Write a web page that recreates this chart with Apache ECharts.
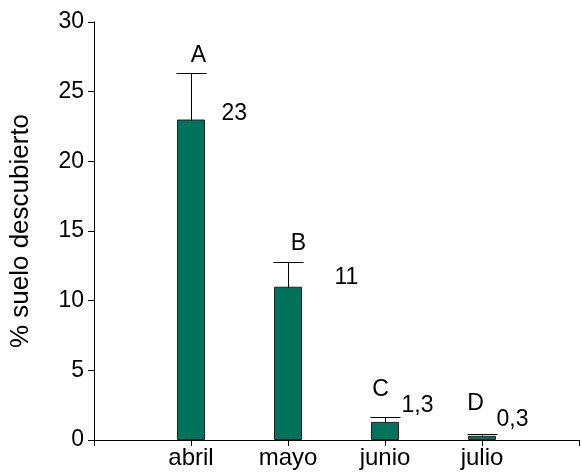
<!DOCTYPE html>
<html>
<head>
<meta charset="utf-8">
<script src="https://cdn.jsdelivr.net/npm/echarts@6/dist/echarts.min.js"></script>
<style>
  html, body { margin: 0; padding: 0; background: #ffffff; }
  #chart { width: 582px; height: 475px; }
</style>
</head>
<body>
<div id="chart"></div>
<script>
// Bare soil cover by month: means, upper error limits and significance groups
const months = ['abril', 'mayo', 'junio', 'julio'];
const means = [23, 11, 1.3, 0.3];
const upperErr = [26.35, 12.8, 1.67, 0.42];
const groups = ['A', 'B', 'C', 'D'];
const yTicks = [0, 5, 10, 15, 20, 25, 30];

// Label placement in pixels: group letters relative to the error cap,
// value labels relative to the bar top (dx, dy)
const letterShift = [[7, -18], [10, -19], [-5, -28], [-7, -31]];
const valueShift = [[30, -6], [46, -9], [16, -16], [14, -16]];

const FONT = '"Liberation Sans", Arial, sans-serif';
const fmt = v => String(v).replace('.', ',');

const barData = months.map((m, i) => [i + 1, means[i]]);
const errData = months.map((m, i) => [i + 1, means[i], upperErr[i]]);

const chart = echarts.init(document.getElementById('chart'), null, { renderer: 'canvas' });

chart.setOption({
  animation: false,
  backgroundColor: '#ffffff',
  grid: { left: 93, right: 2, top: 22, bottom: 35, containLabel: false },
  xAxis: {
    type: 'value',
    min: 0,
    max: 5,
    interval: 1,
    splitLine: { show: false },
    axisLine: { show: true, lineStyle: { color: '#000', width: 1 } },
    axisTick: { show: true, inside: false, length: 6, lineStyle: { color: '#000' } },
    axisLabel: {
      color: '#000',
      fontFamily: FONT,
      fontSize: 24,
      margin: 6,
      formatter: v => (v >= 1 && v <= months.length ? months[v - 1] : '')
    }
  },
  yAxis: {
    type: 'value',
    min: yTicks[0],
    max: yTicks[yTicks.length - 1],
    interval: yTicks[1] - yTicks[0],
    name: '% suelo descubierto',
    nameLocation: 'middle',
    nameGap: 60,
    nameTextStyle: { color: '#000', fontFamily: FONT, fontSize: 26 },
    splitLine: { show: false },
    axisLine: { show: true, lineStyle: { color: '#000', width: 1 } },
    axisTick: { show: true, inside: false, length: 6, lineStyle: { color: '#000' } },
    axisLabel: { color: '#000', fontFamily: FONT, fontSize: 23, margin: 10 }
  },
  series: [
    {
      type: 'bar',
      data: barData,
      barWidth: 28,
      itemStyle: { color: '#00735a', borderColor: '#222', borderWidth: 1 },
      z: 2
    },
    {
      type: 'custom',
      data: errData,
      z: 3,
      renderItem: (params, api) => {
        const i = params.dataIndex;
        const base = api.coord([api.value(0), api.value(1)]);
        const top = api.coord([api.value(0), api.value(2)]);
        const cx = Math.round(base[0]) + 0.5;
        const yb = Math.round(base[1]) + 0.5;
        const yt = Math.round(top[1]) + 0.5;
        const half = 15;
        return {
          type: 'group',
          children: [
            { type: 'line', shape: { x1: cx, y1: yb, x2: cx, y2: yt },
              style: { stroke: '#000', lineWidth: 1 } },
            { type: 'line', shape: { x1: cx - half, y1: yt, x2: cx + half, y2: yt },
              style: { stroke: '#000', lineWidth: 1 } },
            { type: 'text', x: cx + letterShift[i][0], y: yt + letterShift[i][1],
              style: { text: groups[i], font: '23px ' + FONT, fill: '#000',
                       align: 'center', verticalAlign: 'middle' } },
            { type: 'text', x: cx + valueShift[i][0], y: base[1] + valueShift[i][1],
              style: { text: fmt(means[i]), font: '23px ' + FONT, fill: '#000',
                       align: 'left', verticalAlign: 'middle' } }
          ]
        };
      }
    }
  ]
});
</script>
</body>
</html>
